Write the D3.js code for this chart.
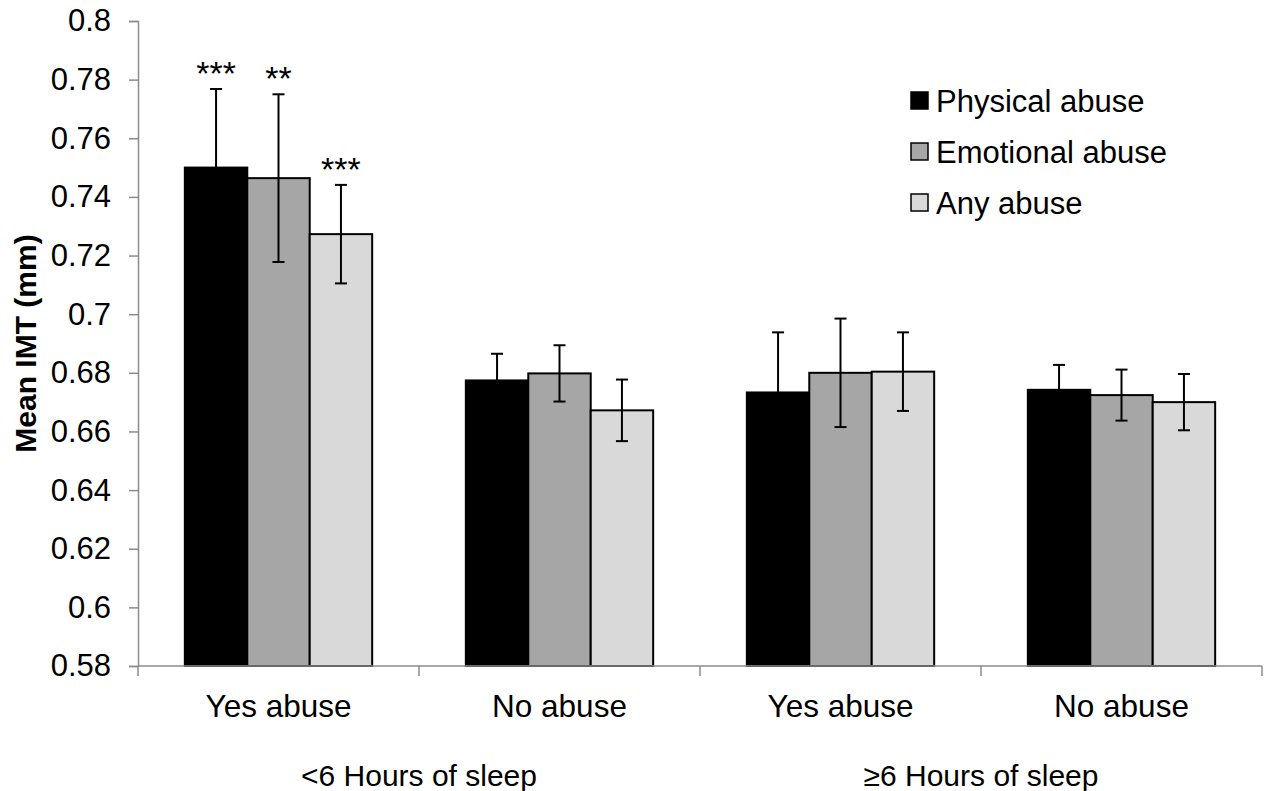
<!DOCTYPE html>
<html>
<head>
<meta charset="utf-8">
<script src="https://cdn.jsdelivr.net/npm/d3@7"></script>
<style>
  html, body { margin: 0; padding: 0; background: #fff; }
  svg { display: block; font-family: "Liberation Sans", Arial, sans-serif; }
</style>
</head>
<body>
<svg id="chart" width="1272" height="791"></svg>
<script>
// Mean IMT by abuse type, abuse status and sleep duration
const categories = ["Yes abuse", "No abuse", "Yes abuse", "No abuse"];
const sleepGroups = ["<6 Hours of sleep", "≥6 Hours of sleep"];
const seriesNames = ["Physical abuse", "Emotional abuse", "Any abuse"];
const seriesColors = ["#000000", "#a6a6a6", "#d9d9d9"];

const physical = [0.750, 0.6774, 0.6733, 0.6742];
const emotional = [0.7464, 0.6798, 0.6800, 0.6724];
const anyAbuse = [0.7273, 0.6672, 0.6804, 0.6700];

const physicalErr = [0.0268, 0.0091, 0.0205, 0.0085];
const emotionalErr = [0.0286, 0.0096, 0.0185, 0.0087];
const anyAbuseErr = [0.0168, 0.0105, 0.0134, 0.0096];

const physicalSig = ["***", "", "", ""];
const emotionalSig = ["**", "", "", ""];
const anyAbuseSig = ["***", "", "", ""];

const yTicks = [0.58, 0.6, 0.62, 0.64, 0.66, 0.68, 0.7, 0.72, 0.74, 0.76, 0.78, 0.8];

const values = [physical, emotional, anyAbuse];
const errors = [physicalErr, emotionalErr, anyAbuseErr];
const sigs = [physicalSig, emotionalSig, anyAbuseSig];

const svg = d3.select("#chart");
const plotLeft = 138, plotRight = 1262, plotTop = 21, plotBottom = 666;

const y = d3.scaleLinear().domain([0.58, 0.8]).range([plotBottom, plotTop]);
const catIdx = d3.range(categories.length);
const x0 = d3.scaleBand().domain(catIdx).range([plotLeft, plotRight]).paddingInner(0).paddingOuter(0);
const x1 = d3.scaleBand().domain(d3.range(seriesNames.length))
  .range([0, x0.bandwidth()]).paddingInner(0).paddingOuter(0.75);

const axisColor = "#8c8c8c";

// y axis
const yAxis = d3.axisLeft(y).tickValues(yTicks).tickSize(9).tickPadding(18)
  .tickFormat(d3.format(".2~f"));
const gy = svg.append("g").attr("transform", `translate(${plotLeft},0)`).call(yAxis);
gy.select(".domain").attr("stroke", axisColor).attr("stroke-width", 1.5);
gy.selectAll(".tick line").attr("stroke", axisColor).attr("stroke-width", 1.5);
gy.selectAll(".tick text")
  .attr("font-size", 31).attr("fill", "#000")
  .attr("font-family", "Liberation Sans, Arial, sans-serif");

// y axis title
svg.append("text")
  .attr("transform", `translate(25,${(plotTop + plotBottom) / 2}) rotate(-90)`)
  .attr("text-anchor", "middle")
  .attr("dominant-baseline", "central")
  .attr("font-size", 30).attr("font-weight", "bold")
  .text("Mean IMT (mm)");

// bars
const groupsG = svg.append("g").selectAll("g").data(catIdx).join("g")
  .attr("transform", d => `translate(${x0(d)},0)`);

groupsG.selectAll("rect")
  .data(ci => seriesNames.map((s, si) => ({ si, v: values[si][ci] })))
  .join("rect")
  .attr("x", d => x1(d.si))
  .attr("width", x1.bandwidth())
  .attr("y", d => y(d.v))
  .attr("height", d => y(0.58) - y(d.v))
  .attr("fill", d => seriesColors[d.si])
  .attr("stroke", "#000")
  .attr("stroke-width", 2);

// error bars with significance marks
const capHalf = 6;
groupsG.selectAll("g.err")
  .data(ci => seriesNames.map((s, si) => ({ si, v: values[si][ci], e: errors[si][ci], s: sigs[si][ci] })))
  .join("g").attr("class", "err")
  .each(function (d) {
    const g = d3.select(this);
    const cx = x1(d.si) + x1.bandwidth() / 2;
    const yt = y(d.v + d.e), yb = y(d.v - d.e);
    g.append("line").attr("x1", cx).attr("x2", cx).attr("y1", yt).attr("y2", yb);
    g.append("line").attr("x1", cx - capHalf).attr("x2", cx + capHalf).attr("y1", yt).attr("y2", yt);
    g.append("line").attr("x1", cx - capHalf).attr("x2", cx + capHalf).attr("y1", yb).attr("y2", yb);
    g.selectAll("line").attr("stroke", "#000").attr("stroke-width", 2);
    if (d.s) {
      g.append("text").attr("x", cx).attr("y", yt - 4)
        .attr("text-anchor", "middle").attr("font-size", 34).text(d.s);
    }
  });

// x axis
svg.append("line").attr("x1", plotLeft).attr("x2", plotRight).attr("y1", plotBottom).attr("y2", plotBottom)
  .attr("stroke", axisColor).attr("stroke-width", 1.5);
const boundaries = catIdx.map(d => x0(d)).concat([plotRight]);
svg.append("g").selectAll("line").data(boundaries).join("line")
  .attr("x1", d => d).attr("x2", d => d).attr("y1", plotBottom).attr("y2", plotBottom + 10)
  .attr("stroke", axisColor).attr("stroke-width", 1.5);

svg.append("g").selectAll("text").data(catIdx).join("text")
  .attr("x", d => x0(d) + x0.bandwidth() / 2)
  .attr("y", 717)
  .attr("text-anchor", "middle").attr("font-size", 31.5)
  .text(d => categories[d]);

svg.append("g").selectAll("text").data(sleepGroups).join("text")
  .attr("x", (d, i) => x0(i * 2 + 1))
  .attr("y", 786)
  .attr("text-anchor", "middle").attr("font-size", 30)
  .text(d => d);

// legend
const legend = svg.append("g").attr("transform", "translate(911,92)");
const lg = legend.selectAll("g").data(seriesNames).join("g")
  .attr("transform", (d, i) => `translate(0,${i * 51})`);
lg.append("rect").attr("width", 17).attr("height", 17)
  .attr("fill", (d, i) => seriesColors[i]).attr("stroke", "#000").attr("stroke-width", 1.5);
lg.append("text").attr("x", 25).attr("y", 19.5)
  .attr("font-size", 31).text(d => d);
</script>
</body>
</html>
